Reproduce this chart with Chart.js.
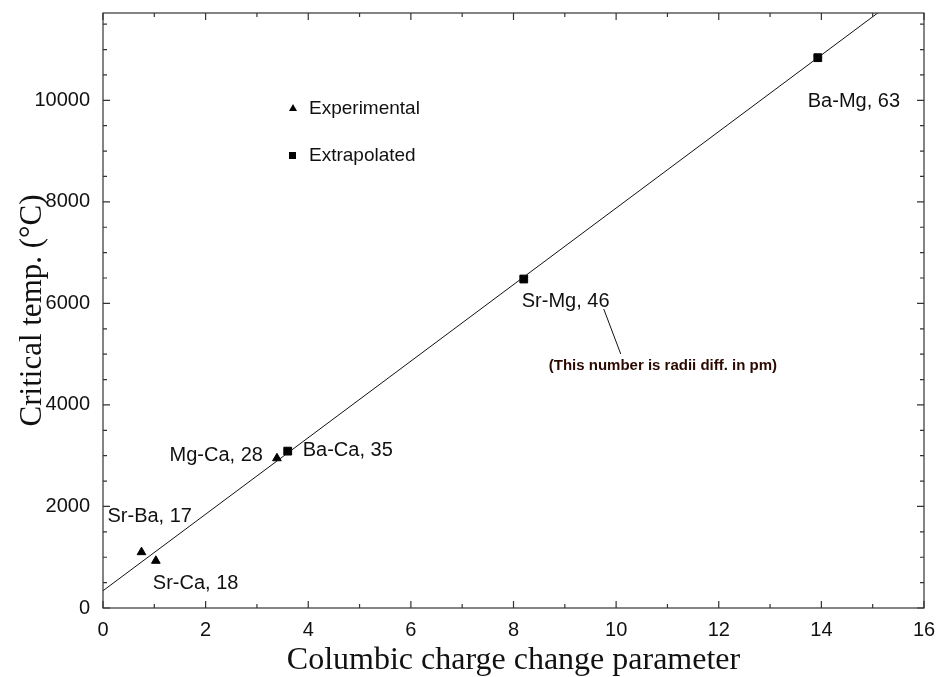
<!DOCTYPE html>
<html>
<head>
<meta charset="utf-8">
<script src="https://cdn.jsdelivr.net/npm/chart.js@4/dist/chart.umd.min.js"></script>
<style>
    html, body { margin: 0; padding: 0; background: #fff; }
    #wrap { width: 936px; height: 677px; }
</style>
</head>
<body>
<div id="wrap"><canvas id="chart"></canvas></div>
<script>
// --- data ---
const expX = [0.75, 1.03, 3.39];
const expY = [1100, 930, 2950];
const expLabels = ['Sr-Ba, 17', 'Sr-Ca, 18', 'Mg-Ca, 28'];

const extX = [3.6, 8.2, 13.93];
const extY = [3090, 6480, 10840];
const extLabels = ['Ba-Ca, 35', 'Sr-Mg, 46', 'Ba-Mg, 63'];

const fitX = [0, 16];
const fitY = [340, 12400];

const xMajor = [0, 2, 4, 6, 8, 10, 12, 14, 16];
const xMinor = [1, 3, 5, 7, 9, 11, 13, 15];
const yMajor = [0, 2000, 4000, 6000, 8000, 10000];
const yMinor = [500, 1000, 1500, 2500, 3000, 3500, 4500, 5000, 5500, 6500, 7000, 7500,
                8500, 9000, 9500, 10500, 11000, 11500];

const legendNames = ['Experimental', 'Extrapolated'];
const noteText = '(This number is radii diff. in pm)';

const SANS = "'Liberation Sans', Arial, sans-serif";
const SERIF = "'Liberation Serif', 'Times New Roman', serif";

const toPts = (xs, ys) => xs.map((x, i) => ({ x, y: ys[i] }));

// label placement (pixel offsets from each point)
const expOffsets = [[-34, -36, 'left'], [-3, 23, 'left'], [-14, -3, 'right']];
const extOffsets = [[15, -1, 'left'], [-2, 22, 'left'], [-10, 44, 'left']];

const framePlugin = {
    id: 'frame',
    afterDraw(chart) {
        const { ctx, chartArea: a, scales: { x, y } } = chart;
        ctx.save();
        ctx.strokeStyle = '#333';
        ctx.lineWidth = 1.2;
        ctx.strokeRect(a.left, a.top, a.right - a.left, a.bottom - a.top);

        ctx.beginPath();
        const xt = (vals, len) => vals.forEach(v => {
            const px = x.getPixelForValue(v);
            ctx.moveTo(px, a.bottom); ctx.lineTo(px, a.bottom - len);
            ctx.moveTo(px, a.top); ctx.lineTo(px, a.top + len);
        });
        const yt = (vals, len) => vals.forEach(v => {
            const py = y.getPixelForValue(v);
            ctx.moveTo(a.left, py); ctx.lineTo(a.left + len, py);
            ctx.moveTo(a.right, py); ctx.lineTo(a.right - len, py);
        });
        xt(xMajor, 7); xt(xMinor, 4);
        yt(yMajor, 7); yt(yMinor, 4);
        ctx.stroke();

        // point labels
        ctx.fillStyle = '#111';
        ctx.font = '20px ' + SANS;
        ctx.textBaseline = 'middle';
        const put = (xs, ys, labels, offs) => labels.forEach((t, i) => {
            const px = x.getPixelForValue(xs[i]);
            const py = y.getPixelForValue(ys[i]);
            ctx.textAlign = offs[i][2];
            ctx.fillText(t, px + offs[i][0], py + offs[i][1]);
        });
        put(expX, expY, expLabels, expOffsets);
        put(extX, extY, extLabels, extOffsets);

        // note with leader line, anchored to Sr-Mg
        const sx = x.getPixelForValue(extX[1]);
        const sy = y.getPixelForValue(extY[1]);
        ctx.strokeStyle = '#111';
        ctx.lineWidth = 1;
        ctx.beginPath();
        ctx.moveTo(sx + 80, sy + 30);
        ctx.lineTo(sx + 97, sy + 75);
        ctx.stroke();
        ctx.fillStyle = '#2a0a00';
        ctx.font = 'bold 15px ' + SANS;
        ctx.textAlign = 'left';
        ctx.fillText(noteText, sx + 25, sy + 87);

        // legend
        const lx = a.left + 190, ly = a.top + 95;
        ctx.fillStyle = '#000';
        ctx.beginPath();
        ctx.moveTo(lx, ly - 4); ctx.lineTo(lx + 4, ly + 3); ctx.lineTo(lx - 4, ly + 3);
        ctx.closePath(); ctx.fill();
        ctx.fillRect(lx - 4, ly + 44, 7, 7);
        ctx.fillStyle = '#111';
        ctx.font = '19px ' + SANS;
        ctx.fillText(legendNames[0], lx + 16, ly + 1);
        ctx.fillText(legendNames[1], lx + 16, ly + 48);
        ctx.restore();
    }
};

new Chart(document.getElementById('chart'), {
    type: 'scatter',
    data: {
        datasets: [
            {
                label: 'fit',
                data: toPts(fitX, fitY),
                showLine: true,
                borderColor: '#111',
                borderWidth: 1,
                pointRadius: 0
            },
            {
                label: legendNames[0],
                data: toPts(expX, expY),
                pointStyle: 'triangle',
                pointRadius: 5,
                backgroundColor: '#000',
                borderColor: '#000',
                borderWidth: 1
            },
            {
                label: legendNames[1],
                data: toPts(extX, extY),
                pointStyle: 'rect',
                pointRadius: 5.5,
                backgroundColor: '#000',
                borderColor: '#000',
                borderWidth: 1
            }
        ]
    },
    options: {
        responsive: true,
        maintainAspectRatio: false,
        animation: false,
        layout: { padding: { top: 13, right: 12, left: 0, bottom: 0 } },
        plugins: {
            legend: { display: false },
            tooltip: { enabled: false }
        },
        scales: {
            x: {
                type: 'linear',
                min: 0,
                max: 16,
                afterBuildTicks: s => { s.ticks = xMajor.map(v => ({ value: v })); },
                afterFit: s => { s.height = 69; s.paddingLeft = 0; s.paddingRight = 0; },
                grid: { display: false, drawTicks: false },
                border: { display: false },
                ticks: { color: '#111', padding: 10, font: { family: SANS, size: 20 }, callback: v => String(v) },
                title: {
                    display: true,
                    text: 'Columbic charge change parameter',
                    color: '#111',
                    padding: { top: 0, bottom: 0 },
                    font: { family: SERIF, size: 32, lineHeight: 1.0 }
                }
            },
            y: {
                type: 'linear',
                min: 0,
                max: 11720,
                afterBuildTicks: s => { s.ticks = yMajor.map(v => ({ value: v })); },
                afterFit: s => { s.width = 103; s.paddingTop = 0; s.paddingBottom = 0; },
                grid: { display: false, drawTicks: false },
                border: { display: false },
                ticks: { color: '#111', padding: 13, font: { family: SANS, size: 20 }, callback: v => String(v) },
                title: {
                    display: true,
                    text: 'Critical temp. (°C)',
                    color: '#111',
                    padding: { top: 14, bottom: 0 },
                    font: { family: SERIF, size: 31, lineHeight: 1.2 }
                }
            }
        }
    },
    plugins: [framePlugin]
});
</script>
</body>
</html>
